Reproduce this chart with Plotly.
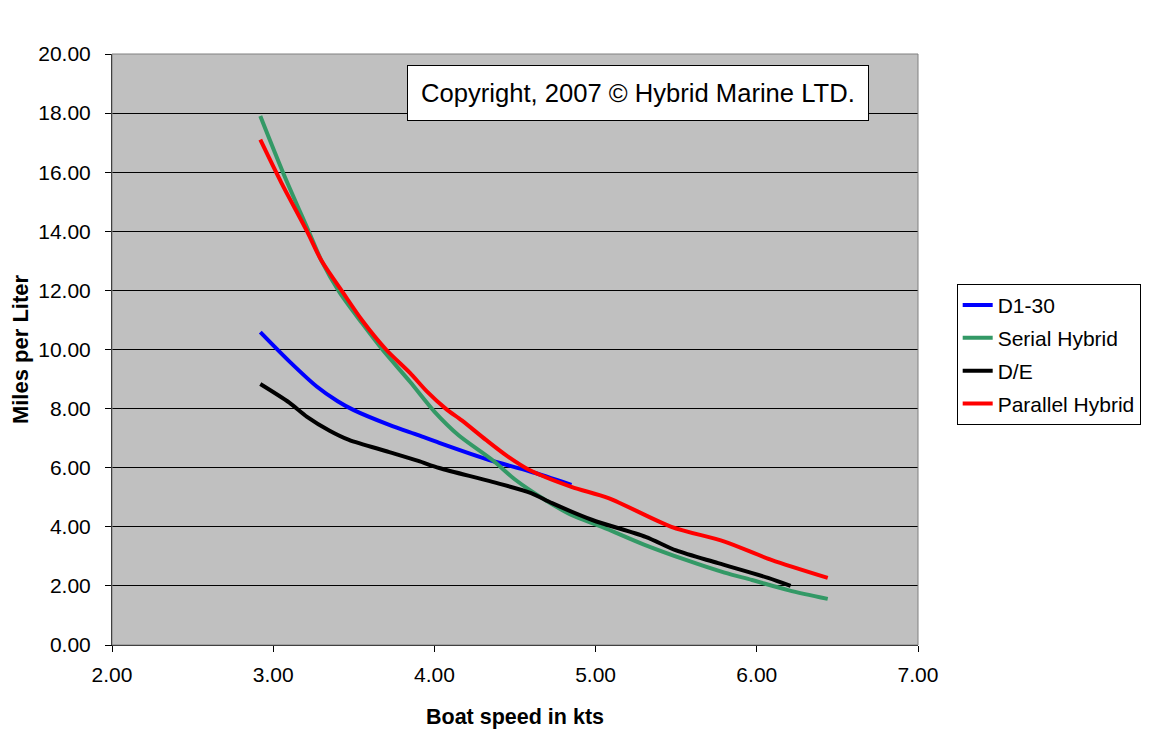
import plotly.graph_objects as go

# Data
d130_speed = [2.92, 3.10, 3.27, 3.40, 3.50, 3.72, 3.90, 4.03, 4.34, 4.59, 4.85]
d130_mpl = [10.59, 9.60, 8.75, 8.25, 7.95, 7.45, 7.10, 6.84, 6.26, 5.88, 5.42]

serial_speed = [2.92, 3.06, 3.22, 3.30, 3.41, 3.55, 3.68, 3.85, 4.00, 4.15, 4.36, 4.50,
                4.69, 4.85, 5.04, 5.30, 5.56, 5.80, 5.97, 6.20, 6.44]
serial_mpl = [17.90, 16.00, 14.00, 13.00, 11.95, 10.90, 9.98, 8.90, 7.90, 7.10, 6.26, 5.60,
              4.90, 4.40, 4.00, 3.40, 2.88, 2.45, 2.20, 1.85, 1.56]

de_speed = [2.92, 3.10, 3.21, 3.35, 3.47, 3.72, 3.90, 4.03, 4.36, 4.60, 4.73, 4.98,
            5.31, 5.50, 5.76, 6.07, 6.21]
de_mpl = [8.83, 8.20, 7.72, 7.25, 6.94, 6.53, 6.23, 5.99, 5.52, 5.14, 4.80, 4.23,
          3.66, 3.20, 2.77, 2.27, 2.00]

parallel_speed = [2.92, 3.05, 3.21, 3.30, 3.43, 3.55, 3.70, 3.85, 3.95, 4.07, 4.17, 4.32,
                  4.45, 4.59, 4.85, 5.08, 5.47, 5.80, 6.09, 6.44]
parallel_mpl = [17.10, 15.65, 14.00, 13.00, 11.95, 11.00, 10.00, 9.20, 8.60, 8.00, 7.60, 6.94,
                6.40, 5.92, 5.35, 4.97, 4.00, 3.50, 2.88, 2.27]

x_ticks = [2, 3, 4, 5, 6, 7]
y_ticks = [0, 2, 4, 6, 8, 10, 12, 14, 16, 18, 20]

series = [
    ("D1-30", d130_speed, d130_mpl, "#0000FF"),
    ("Serial Hybrid", serial_speed, serial_mpl, "#339966"),
    ("D/E", de_speed, de_mpl, "#000000"),
    ("Parallel Hybrid", parallel_speed, parallel_mpl, "#FF0000"),
]

fig = go.Figure()
for name, xs, ys, col in series:
    fig.add_trace(go.Scatter(x=xs, y=ys, name=name, mode="lines", legendgroup=name,
                             line=dict(color=col, width=4, shape="spline", smoothing=0.8)))

font_family = "Liberation Sans, Arial, sans-serif"

fig.update_layout(
    width=1145, height=724,
    paper_bgcolor="white",
    plot_bgcolor="#C0C0C0",
    margin=dict(l=104, r=233, t=46, b=87),
    font=dict(family=font_family, color="black", size=21),
    showlegend=True,
    legend=dict(x=1.048, y=0.611, xanchor="left", yanchor="top",
                bgcolor="white", bordercolor="black", borderwidth=1,
                font=dict(size=21, family=font_family), tracegroupgap=2.5,
                traceorder="grouped"),
    xaxis=dict(range=[2, 7], tickvals=x_ticks, tickformat=".2f",
               showgrid=False, zeroline=False, automargin=False,
               showline=True, linecolor="black", linewidth=1,
               ticks="outside", ticklen=6, tickcolor="black",
               tickfont=dict(size=21), ticklabelstandoff=5,
               title=dict(text="<b>Boat speed in kts</b>", font=dict(size=21.5), standoff=23)),
    yaxis=dict(range=[0, 20], tickvals=y_ticks, tickformat=".2f",
               showgrid=True, gridcolor="black", gridwidth=1, zeroline=False, automargin=False,
               showline=True, linecolor="black", linewidth=1,
               ticks="outside", ticklen=6, tickcolor="black",
               tickfont=dict(size=21), ticklabelstandoff=10,
               title=dict(text="<b>Miles per Liter</b>", font=dict(size=22), standoff=10)),
    shapes=[dict(type="rect", xref="paper", yref="paper", x0=0, x1=1, y0=0, y1=1,
                 line=dict(color="#808080", width=1), layer="above")],
    annotations=[dict(text="Copyright, 2007 © Hybrid Marine LTD.", xref="paper", yref="paper",
                      x=0.652, y=0.934, xanchor="center", yanchor="middle", showarrow=False,
                      font=dict(size=25.6, family=font_family, color="black"),
                      bgcolor="white", bordercolor="black", borderwidth=1, borderpad=13)],
)

fig.write_html("out.html")
